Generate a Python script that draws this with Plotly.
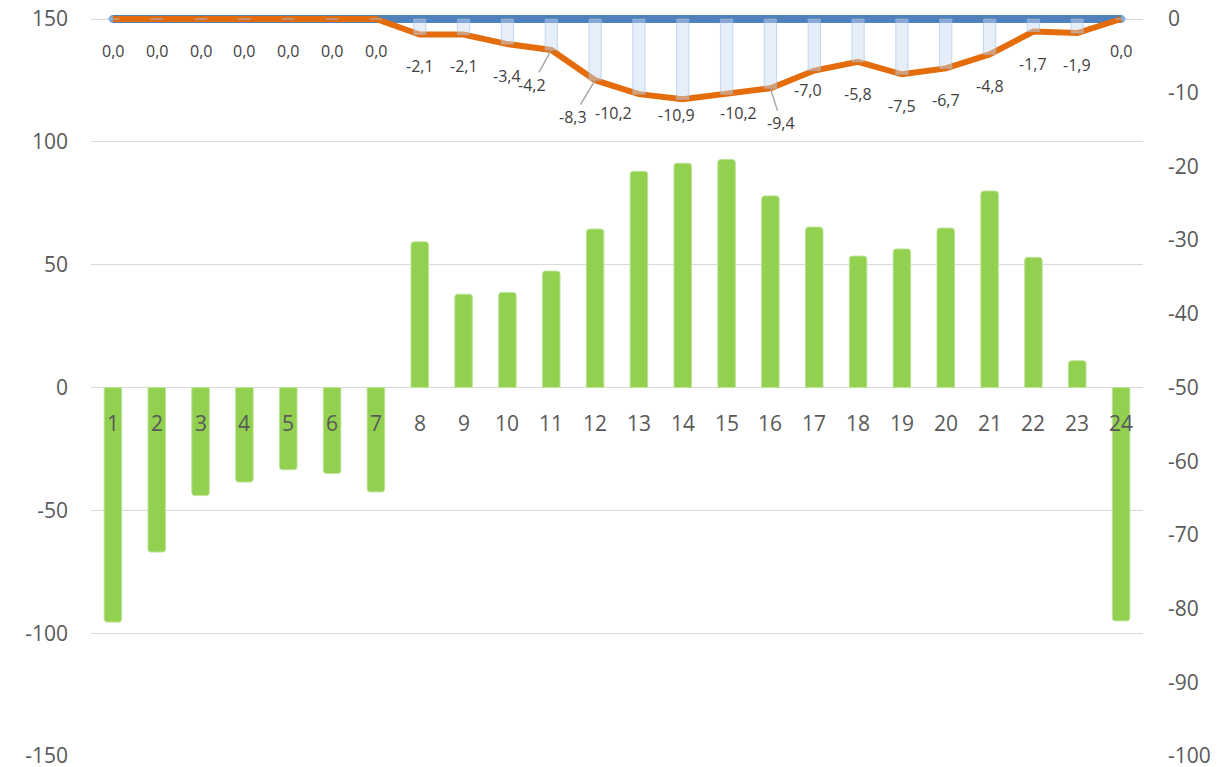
import plotly.graph_objects as go

# Hour of the day (category axis)
hours = [1, 2, 3, 4, 5, 6, 7, 8, 9, 10, 11, 12,
         13, 14, 15, 16, 17, 18, 19, 20, 21, 22, 23, 24]

# Hourly balance, left axis
balance = [-95.5, -67.0, -44.0, -38.5, -33.5, -35.0, -42.5, 59.3, 38.0, 38.7, 47.4, 64.5,
           88.0, 91.3, 92.8, 78.0, 65.3, 53.5, 56.4, 64.9, 80.0, 53.0, 10.9, -95.0]

# Deviation series, right axis
deviation = [0.0, 0.0, 0.0, 0.0, 0.0, 0.0, 0.0, -2.1, -2.1, -3.4, -4.2, -8.3,
             -10.2, -10.9, -10.2, -9.4, -7.0, -5.8, -7.5, -6.7, -4.8, -1.7, -1.9, 0.0]

# Reference line at zero, right axis
baseline = [0.0, 0.0, 0.0, 0.0, 0.0, 0.0, 0.0, 0.0, 0.0, 0.0, 0.0, 0.0,
            0.0, 0.0, 0.0, 0.0, 0.0, 0.0, 0.0, 0.0, 0.0, 0.0, 0.0, 0.0]

left_ticks = [-150, -100, -50, 0, 50, 100, 150]
right_ticks = [-100, -90, -80, -70, -60, -50, -40, -30, -20, -10, 0]

TEXT = "#595959"
LABEL = "#404040"
FONT = "Open Sans"

# The plot area reaches a few pixels above the top gridline so the thick
# zero lines are not cut in half; both ranges are padded by the same amount.
PAD_PX = 5
AXIS_PX = 737
left_pad = PAD_PX * (left_ticks[-1] - left_ticks[0]) / AXIS_PX
right_pad = PAD_PX * (right_ticks[-1] - right_ticks[0]) / AXIS_PX

# label placement (pixel offsets from the point) and whether a leader line is drawn
label_style = {
    11: (-19, 35, True),
    12: (-22, 37, True),
    13: (-25, 19, False),
    14: (-6, 16, False),
    15: (12, 19, False),
    16: (11, 35, True),
    17: (-6, 19, False),
}

fig = go.Figure()

fig.add_trace(go.Bar(
    x=hours, y=balance, yaxis="y", width=0.40,
    marker=dict(color="#92D050", line=dict(color="#BDE398", width=1), cornerradius=3),
    showlegend=False,
))

fig.add_trace(go.Scatter(
    x=hours, y=baseline, yaxis="y2", mode="lines+markers",
    line=dict(color="#4F81BD", width=8),
    marker=dict(color="#4F81BD", size=[8] + [0] * 22 + [8], line=dict(width=0)),
    showlegend=False,
))

fig.add_trace(go.Scatter(
    x=hours, y=deviation, yaxis="y2", mode="lines",
    line=dict(color="#E46C0A", width=6),
    showlegend=False,
))

fig.add_trace(go.Bar(
    x=hours, y=deviation, yaxis="y3", width=0.28,
    marker=dict(color="rgba(198,217,241,0.45)", line=dict(color="rgba(160,188,228,0.55)", width=1)),
    showlegend=False,
))

annotations = []
for h, v in zip(hours, deviation):
    dx, dy, leader = label_style.get(h, (0, 32, False))
    txt = f"{v:.1f}".replace(".", ",")
    if leader:
        annotations.append(dict(
            x=h, y=v, xref="x", yref="y2", text=txt, showarrow=True,
            ax=dx, ay=dy, arrowhead=0, arrowwidth=1.4, arrowcolor="#A6A6A6", standoff=0,
            font=dict(family=FONT, size=16, color=LABEL),
        ))
    else:
        annotations.append(dict(
            x=h, y=v, xref="x", yref="y2", text=txt, showarrow=False,
            xshift=dx, yshift=-dy,
            font=dict(family=FONT, size=16, color=LABEL),
        ))

for h in hours:
    annotations.append(dict(
        x=h, y=0, xref="x", yref="y", text=str(h), showarrow=False, yshift=-35,
        font=dict(family=FONT, size=21, color=TEXT),
    ))

fig.update_layout(
    width=1226, height=767,
    margin=dict(l=91, r=83, t=19 - PAD_PX, b=11),
    paper_bgcolor="white", plot_bgcolor="white",
    barmode="overlay",
    showlegend=False,
    annotations=annotations,
    xaxis=dict(range=[0.5, 24.5], showticklabels=False, showgrid=False,
               zeroline=False, showline=False, fixedrange=True),
    yaxis=dict(range=[left_ticks[0], left_ticks[-1] + left_pad],
               tickvals=left_ticks, ticktext=[str(t) for t in left_ticks],
               showgrid=True, gridcolor="#D9D9D9", gridwidth=1.3, zeroline=False,
               showline=False, ticks="", ticklabelstandoff=22, automargin=False,
               ticklabeloverflow="allow",
               tickfont=dict(family=FONT, size=21, color=TEXT)),
    yaxis2=dict(range=[right_ticks[0], right_ticks[-1] + right_pad], overlaying="y", side="right",
                tickvals=right_ticks, ticktext=[str(t) for t in right_ticks],
                showgrid=False, zeroline=False, showline=False, ticks="",
                ticklabelstandoff=24, automargin=False, ticklabeloverflow="allow",
                tickfont=dict(family=FONT, size=21, color=TEXT)),
    yaxis3=dict(range=[right_ticks[0], right_ticks[-1] + right_pad], overlaying="y", visible=False),
)

fig.write_html("out.html")
